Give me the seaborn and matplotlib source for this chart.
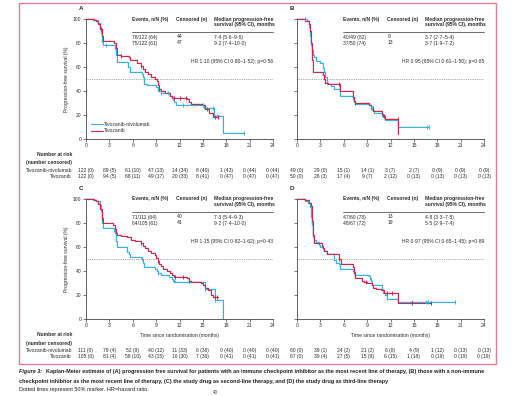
import numpy as np
import pandas as pd
import matplotlib
matplotlib.use("Agg")
import matplotlib.pyplot as plt
import matplotlib.transforms as mtransforms
from matplotlib.lines import Line2D
from matplotlib.patches import Rectangle
import seaborn as sns

# figure size in pixels
W, H = 514, 396

arms = ["Tivozanib-nivolumab", "Tivozanib"]
palette = {"Tivozanib-nivolumab": "#38B1DF", "Tivozanib": "#C8284F"}
month_ticks = [0, 3, 6, 9, 12, 15, 18, 21, 24]
pct_ticks = [0, 20, 40, 60, 80, 100]

# --- Panel A: immune checkpoint inhibitor as most recent line ---
a_nivo_t = [0, 0.9, 1.5, 1.75, 1.95, 2.05, 2.2, 3.7, 3.85, 4.0, 5.4, 5.6, 7.2, 7.35, 7.5, 7.8,
            9.0, 9.3, 9.6, 10.8, 11.0, 11.3, 11.5, 15.2, 16.4, 17.6, 20.3]
a_nivo_s = [100, 99, 97, 93, 88, 81, 78, 75, 70, 64, 60, 56, 54, 52, 46, 45,
            43, 40, 38, 36, 34, 31, 28, 26, 19, 5, 5]
a_nivo_cens = [2.6, 9.6, 10.5, 11.2, 12.5, 15.0, 16.3, 16.8, 20.3]
a_tivo_t = [0, 1.0, 1.3, 1.6, 1.8, 2.0, 2.2, 3.6, 3.8, 4.0, 4.5, 5.5, 5.7, 6.5, 7.0, 7.3, 7.6, 8.0,
            8.4, 8.9, 9.1, 9.2, 9.4, 9.6, 10.2, 10.8, 11.1, 13.0, 13.2, 13.5, 15.0, 15.3, 15.8, 16.3, 17.0]
a_tivo_s = [100, 99, 98, 96, 92, 86, 82, 80, 76, 70, 69, 68, 66, 63, 61, 58, 56, 54,
            52, 50, 48, 45, 42, 40, 38, 36, 34, 33, 31, 29, 28, 25, 22, 18, 18]
a_tivo_cens = [1.9, 4.5, 7.0, 9.4, 11.3, 12.0, 12.8, 15.5, 16.6, 17.0]

# --- Panel B: non-immune checkpoint inhibitor as most recent line ---
b_nivo_t = [0, 1.3, 1.5, 1.6, 1.7, 1.8, 1.9, 2.0, 2.2, 2.5, 3.0, 3.3, 3.5, 3.6, 3.8, 4.3, 4.7, 5.5,
            7.2, 7.35, 7.5, 9.3, 9.5, 9.7, 9.85, 10.9, 11.1, 11.3, 13.0, 17.0]
b_nivo_s = [100, 98, 96, 93, 86, 78, 74, 70, 68, 65, 63, 59, 56, 52, 46, 44, 42, 36,
            33, 31, 29, 28, 26, 24, 22, 19, 18, 16, 10, 10]
b_nivo_cens = [1.0, 9.5, 9.6, 16.7, 17.0]
b_tivo_t = [0, 1.0, 1.5, 1.7, 1.8, 1.9, 2.0, 3.3, 3.5, 3.6, 4.0, 5.5, 7.2, 7.35, 7.5, 9.3, 9.5,
            9.8, 10.9, 11.1, 11.3, 13.0]
b_tivo_s = [100, 98, 96, 90, 80, 66, 56, 53, 50, 47, 46, 40, 35, 32, 30, 28, 26,
            23, 21, 19, 17, 4]
b_tivo_cens = [5.4, 7.5, 9.7, 11.2, 12.9]

# --- Panel C: study drug as second-line therapy ---
c_nivo_t = [0, 0.9, 1.3, 1.8, 1.9, 2.0, 2.1, 2.2, 3.6, 3.7, 3.8, 3.9, 4.0, 5.3, 5.5, 5.7, 7.0, 7.2,
            7.3, 7.4, 8.9, 9.1, 9.3, 9.6, 10.7, 11.0, 11.2, 11.4, 15.3, 16.5, 17.6]
c_nivo_s = [100, 99, 98, 95, 90, 85, 80, 76, 74, 72, 70, 65, 60, 56, 54, 52, 51, 50,
            47, 43, 42, 40, 38, 37, 35, 33, 32, 31, 25, 16, 0]
c_nivo_cens = [3.6, 7.2, 9.3, 11.3, 15.3, 16.6]
c_tivo_t = [0, 1.0, 1.3, 1.6, 1.8, 2.0, 2.1, 2.2, 3.5, 3.7, 3.9, 4.0, 4.5, 5.3, 5.8, 6.3, 7.0, 7.3,
            7.6, 8.0, 8.4, 8.8, 9.0, 9.2, 9.4, 9.6, 9.9, 10.4, 10.8, 11.0, 11.3, 13.0, 13.2, 13.5,
            14.8, 15.0, 15.3, 15.6, 16.0, 16.3, 17.0]
c_tivo_s = [100, 99, 98, 96, 92, 88, 84, 80, 78, 75, 72, 70, 69, 68, 66, 65, 63, 61,
            59, 57, 55, 53, 51, 48, 46, 44, 42, 40, 38, 37, 35, 34, 32, 31,
            30, 28, 26, 24, 20, 18, 18]
c_tivo_cens = [2.1, 7.0, 9.2, 11.4, 12.5, 13.2, 16.5, 16.8]

# --- Panel D: study drug as third-line therapy ---
d_nivo_t = [0, 1.0, 1.4, 1.7, 1.8, 1.9, 2.0, 2.1, 2.2, 2.5, 2.8, 3.0, 3.3, 3.5, 3.8, 4.7, 4.8, 5.0,
            5.4, 5.5, 7.2, 7.3, 7.5, 9.2, 9.4, 9.5, 9.6, 10.9, 11.0, 11.3, 11.5, 13.0, 20.3]
d_nivo_s = [100, 98, 97, 93, 85, 78, 73, 68, 66, 64, 62, 60, 58, 57, 54, 52, 49, 47,
            46, 42, 40, 38, 37, 36, 34, 32, 28, 25, 22, 20, 17, 14, 14]
d_nivo_cens = [9.4, 14.8, 16.5, 16.8, 20.3]
d_tivo_t = [0, 1.0, 1.5, 1.8, 1.9, 2.0, 2.2, 3.2, 3.3, 3.5, 3.8, 5.4, 5.6, 7.2, 7.3, 7.4, 7.5,
            8.3, 8.6, 9.0, 9.6, 9.8, 10.2, 10.8, 11.2, 13.0, 17.2]
d_tivo_s = [100, 99, 97, 94, 82, 70, 63, 61, 59, 57, 54, 50, 46, 43, 39, 36, 34,
            32, 31, 30, 28, 26, 25, 24, 22, 13, 13]
d_tivo_cens = [5.4, 7.3, 8.9, 11.6, 12.2, 14.8, 17.2]

# summary tables (events, censored, median PFS) and hazard ratios
a_table = [["78/122 (64)", "44", "7·4 (5·6–9·6)"], ["75/122 (61)", "47", "9·2 (7·4–10·0)"]]
b_table = [["40/49 (82)", "9", "3·7 (2·7–5·4)"], ["37/50 (74)", "13", "3·7 (1·9–7·2)"]]
c_table = [["71/111 (64)", "40", "7·3 (5·4–9·3)"], ["64/105 (61)", "41", "9·2 (7·4–10·0)"]]
d_table = [["47/60 (78)", "13", "4·8 (3·3–7·5)"], ["48/67 (72)", "19", "5·5 (2·9–7·4)"]]
a_hr = "HR 1·10 (95% CI 0·80–1·52); p=0·56"
b_hr = "HR 0·95 (95% CI 0·61–1·50); p=0·85"
c_hr = "HR 1·15 (95% CI 0·82–1·62); p=0·43"
d_hr = "HR 0·97 (95% CI 0·65–1·45); p=0·89"

# number at risk (number censored)
a_risk_nivo = ["122 (0)", "89 (5)", "61 (10)", "47 (13)", "14 (34)", "8 (40)", "1 (43)", "0 (44)", "0 (44)"]
a_risk_tivo = ["122 (0)", "94 (5)", "68 (11)", "49 (17)", "20 (33)", "8 (41)", "0 (47)", "0 (47)", "0 (47)"]
b_risk_nivo = ["49 (0)", "29 (0)", "15 (1)", "14 (1)", "3 (7)", "2 (7)", "0 (9)", "0 (9)", "0 (9)"]
b_risk_tivo = ["50 (0)", "26 (3)", "17 (4)", "9 (7)", "2 (12)", "0 (13)", "0 (13)", "0 (13)", "0 (13)"]
c_risk_nivo = ["111 (0)", "79 (4)", "52 (9)", "40 (12)", "11 (33)", "6 (38)", "0 (40)", "0 (40)", "0 (40)"]
c_risk_tivo = ["105 (0)", "81 (4)", "58 (10)", "43 (15)", "16 (30)", "7 (36)", "0 (41)", "0 (41)", "0 (41)"]
d_risk_nivo = ["60 (0)", "39 (1)", "24 (2)", "21 (2)", "6 (8)", "4 (9)", "1 (12)", "0 (13)", "0 (13)"]
d_risk_tivo = ["67 (0)", "39 (4)", "27 (5)", "15 (9)", "6 (15)", "1 (18)", "0 (19)", "0 (19)", "0 (19)"]

caption_1 = ("Kaplan-Meier estimate of (A) progression free survival for patients with an immune checkpoint "
             "inhibitor as the most recent line of therapy, (B) those with a non-immune")
caption_2 = ("checkpoint inhibitor as the most recent line of therapy, (C) the study drug as second-line "
             "therapy, and (D) the study drug as third-line therapy")
caption_3 = "Dotted lines represent 50% marker. HR=hazard ratio."

sns.set_theme(style="ticks")
plt.rcParams["font.family"] = ["Liberation Sans", "DejaVu Sans"]
FS = 3.6
CFS = 4.0
TXT = "#2b2b2b"

fig = plt.figure(figsize=(W / 100, H / 100), dpi=100)


def fx(px):
    return px / W


def fy(py):
    return 1 - py / H


def km_frame(t_n, s_n, t_t, s_t):
    rows = []
    for arm, tt, ss in [(arms[0], t_n, s_n), (arms[1], t_t, s_t)]:
        rows += [(arm, a, b) for a, b in zip(tt, ss)]
    return pd.DataFrame(rows, columns=["arm", "time", "surv"])


def step_value(tt, ss, x):
    i = np.searchsorted(np.array(tt), x, side="right") - 1
    return np.array(ss)[i]


panels = [
    ("A", (86, 19, 273, 139), (a_nivo_t, a_nivo_s, a_nivo_cens), (a_tivo_t, a_tivo_s, a_tivo_cens),
     a_table, a_hr, a_risk_nivo, a_risk_tivo, True, False),
    ("B", (297, 19, 484, 139), (b_nivo_t, b_nivo_s, b_nivo_cens), (b_tivo_t, b_tivo_s, b_tivo_cens),
     b_table, b_hr, b_risk_nivo, b_risk_tivo, False, False),
    ("C", (86, 199, 273, 319), (c_nivo_t, c_nivo_s, c_nivo_cens), (c_tivo_t, c_tivo_s, c_tivo_cens),
     c_table, c_hr, c_risk_nivo, c_risk_tivo, True, True),
    ("D", (297, 199, 484, 319), (d_nivo_t, d_nivo_s, d_nivo_cens), (d_tivo_t, d_tivo_s, d_tivo_cens),
     d_table, d_hr, d_risk_nivo, d_risk_tivo, False, True),
]

for letter, (x0, y0, x1, y1), nivo, tivo, table, hr, risk_n, risk_t, left, bottom in panels:
    ax = fig.add_axes([fx(x0), fy(y1), (x1 - x0) / W, (y1 - y0) / H])
    df = km_frame(nivo[0], nivo[1], tivo[0], tivo[1])

    # faint halo under the step lines, then the lines themselves
    sns.lineplot(data=df, x="time", y="surv", hue="arm", palette=palette, estimator=None, sort=False,
                 drawstyle="steps-post", lw=1.6, alpha=0.15, legend=False, ax=ax, clip_on=False)
    sns.lineplot(data=df, x="time", y="surv", hue="arm", palette=palette, estimator=None, sort=False,
                 drawstyle="steps-post", lw=0.75, legend=False, ax=ax, clip_on=False)

    # censor ticks
    for arm, (tt, ss, cc) in zip(arms, [nivo, tivo]):
        ax.plot(cc, [step_value(tt, ss, c) for c in cc], ls="none", marker="|", ms=2.5,
                mew=0.7, color=palette[arm], clip_on=False)

    ax.axhline(50, color="#8a8a8a", lw=0.6, ls=(0, (1, 1.2)), zorder=0)

    ax.set_xlim(0, 24)
    ax.set_ylim(0, 100)
    ax.set_xticks(month_ticks)
    ax.set_yticks(pct_ticks)
    ax.tick_params(length=2, width=0.5, pad=1.2, labelsize=FS, colors="#444", labelcolor=TXT)
    if not left:
        ax.set_yticklabels([])
        ax.set_ylabel("")
    else:
        ax.set_ylabel("Progression-free survival (%)", fontsize=FS, color=TXT, labelpad=3)
    if bottom:
        ax.set_xlabel("Time since randomisation (months)", fontsize=FS, color=TXT, labelpad=3)
    else:
        ax.set_xlabel("")
    sns.despine(ax=ax)
    for sp in ["left", "bottom"]:
        ax.spines[sp].set_linewidth(0.6)
        ax.spines[sp].set_color("#444")

    # panel letter
    fig.text(fx(x0 - 7), fy(y0 - 10), letter, fontsize=4.6, fontweight="bold", color=TXT,
             ha="left", va="center")

    # summary table
    cols = [x0 + 46, x0 + 90, x0 + 128]
    fig.text(fx(cols[0]), fy(y0), "Events, n/N (%)", fontsize=FS, fontweight="bold", color=TXT, va="center")
    fig.text(fx(cols[1]), fy(y0), "Censored (n)", fontsize=FS, fontweight="bold", color=TXT, va="center")
    fig.text(fx(cols[2]), fy(y0), "Median progression-free", fontsize=FS, fontweight="bold",
             color=TXT, va="center")
    fig.text(fx(cols[2]), fy(y0 + 5.5), "survival (95% CI), months", fontsize=FS, fontweight="bold",
             color=TXT, va="center")
    fig.add_artist(Line2D([fx(cols[0]), fx(x1)], [fy(y0 + 12.5)] * 2, lw=0.6, color="#555"))
    for r, row in enumerate(table):
        for c, val in enumerate(row):
            fig.text(fx(cols[c] + (1 if c == 1 else 0)), fy(y0 + 18 + 6 * r), val, fontsize=FS,
                     color=TXT, va="center")
    fig.text(fx(x1), fy(y0 + 42), hr, fontsize=FS, color=TXT, ha="right", va="center")

    # number at risk
    trans = mtransforms.blended_transform_factory(ax.transData, fig.transFigure)
    for k, m in enumerate(month_ticks):
        fig.text(m, fy(y1 + 31.5), risk_n[k], transform=trans, fontsize=FS, color=TXT,
                 ha="center", va="center")
        fig.text(m, fy(y1 + 37.5), risk_t[k], transform=trans, fontsize=FS, color=TXT,
                 ha="center", va="center")
    if left:
        fig.text(fx(72), fy(y1 + 16), "Number at risk", fontsize=FS, fontweight="bold", color=TXT,
                 ha="right", va="center")
        fig.text(fx(72), fy(y1 + 24), "(number censored)", fontsize=FS, fontweight="bold", color=TXT,
                 ha="right", va="center")
        fig.text(fx(72), fy(y1 + 31.5), arms[0], fontsize=FS, color=TXT, ha="right", va="center")
        fig.text(fx(72), fy(y1 + 37.5), arms[1], fontsize=FS, color=TXT, ha="right", va="center")

    if letter == "A":
        handles = [Line2D([], [], color=palette[a], lw=0.8) for a in arms]
        ax.legend(handles, arms, loc="lower left", bbox_to_anchor=(0.0, 0.01), frameon=False,
                  fontsize=FS, handlelength=2.4, handletextpad=0.3, labelspacing=0.25,
                  labelcolor=TXT)

# pink frame round the panels
fig.add_artist(Rectangle((fx(19), fy(364)), fx(496) - fx(19), fy(3) - fy(364), fill=False,
                         ec="#DD7F97", lw=1.0))

# caption
fig.text(fx(19), fy(372), "Figure 3:", fontsize=CFS, fontweight="bold", fontstyle="italic",
         color="#222", va="center")
fig.text(fx(45.5), fy(372), caption_1, fontsize=CFS, fontweight="bold", color="#222", va="center")
fig.text(fx(19), fy(381), caption_2, fontsize=CFS, fontweight="bold", color="#222", va="center")
fig.text(fx(19), fy(389), caption_3, fontsize=CFS, color="#222", va="center")
fig.text(fx(213), fy(392.5), "40", fontsize=3.4, color="#444", va="center")

fig.savefig("out.png", dpi=100)
